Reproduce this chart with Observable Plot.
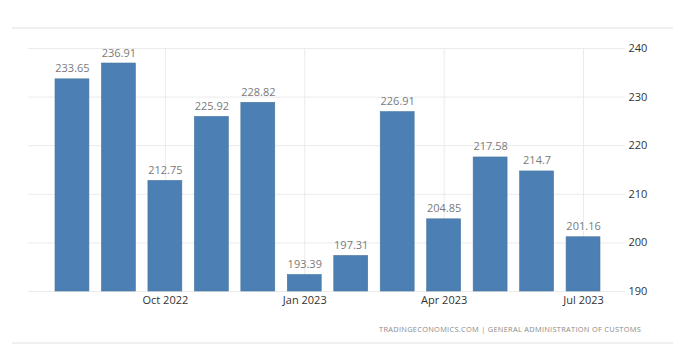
<!DOCTYPE html>
<html>
<head>
<meta charset="utf-8">
<script src="https://cdn.jsdelivr.net/npm/d3@7"></script>
<script src="https://cdn.jsdelivr.net/npm/@observablehq/plot@0.6"></script>
<style>
  html, body { margin: 0; padding: 0; background: #fff; }
  #wrap { position: relative; width: 700px; height: 359px; overflow: hidden; }
  #frame { position: absolute; left: 12px; top: 27px; width: 661px; height: 317px;
           border-top: 2px solid #f0f0f0; border-bottom: 2px solid #f0f0f0; box-sizing: border-box; }
  #chart { position: absolute; left: 0; top: 0; }
  #caption { position: absolute; right: 59px; top: 324px; font-family: "Open Sans", sans-serif;
             font-size: 7.4px; letter-spacing: 0.3px; color: #8a8a8a; white-space: nowrap; }
</style>
</head>
<body>
<div id="wrap">
  <div id="frame"></div>
  <div id="chart"></div>
  <div id="caption">TRADINGECONOMICS.COM | GENERAL ADMINISTRATION OF CUSTOMS</div>
</div>
<script>
const months = ["Aug 2022","Sep 2022","Oct 2022","Nov 2022","Dec 2022","Jan 2023","Feb 2023","Mar 2023","Apr 2023","May 2023","Jun 2023","Jul 2023"];
const values = [233.65, 236.91, 212.75, 225.92, 228.82, 193.39, 197.31, 226.91, 204.85, 217.58, 214.7, 201.16];
const labels = ["233.65","236.91","212.75","225.92","228.82","193.39","197.31","226.91","204.85","217.58","214.7","201.16"];
const xTicks = ["Oct 2022","Jan 2023","Apr 2023","Jul 2023"];
const yTicks = [190, 200, 210, 220, 230, 240];

const data = months.map((m, i) => ({month: m, value: values[i], label: labels[i]}));

const chart = Plot.plot({
  width: 700,
  height: 359,
  marginTop: 48,
  marginBottom: 68,
  marginLeft: 28,
  marginRight: 75,
  style: {fontFamily: "'Open Sans', sans-serif", fontSize: "11px", background: "transparent"},
  x: {type: "band", domain: months, paddingInner: 0.27, paddingOuter: 0, insetLeft: 27, insetRight: 25, round: false, axis: null},
  y: {domain: [190, 240], axis: null},
  marks: [
    Plot.gridY(yTicks, {stroke: "#ebebeb", strokeOpacity: 1}),
    Plot.gridX(xTicks, {stroke: "#ebebeb", strokeOpacity: 1}),
    Plot.rectY(data, {x: "month", y1: 190, y2: "value", fill: "#4c80b4", stroke: "#46759f", strokeWidth: 0.6}),
    Plot.text(data, {x: "month", y: "value", text: "label", dy: -7, lineAnchor: "bottom", fill: "#7a7a7a", fontSize: 11}),
    Plot.axisY(yTicks, {anchor: "right", tickSize: 0, tickPadding: 3, label: null, fill: "#333", fontSize: 11, textAnchor: "start"}),
    Plot.axisX(xTicks, {anchor: "bottom", tickSize: 0, tickPadding: 5, label: null, fill: "#333", fontSize: 11})
  ]
});
document.getElementById("chart").appendChild(chart);
</script>
</body>
</html>
